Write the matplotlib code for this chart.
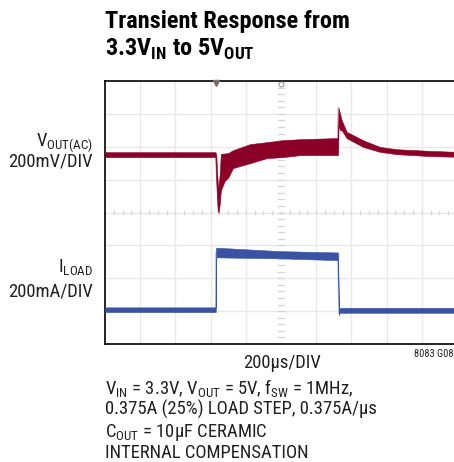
import matplotlib
matplotlib.use('Agg')
import matplotlib.pyplot as plt

FAM = ['Roboto Condensed', 'Liberation Sans Narrow', 'Open Sans Condensed', 'Roboto', 'DejaVu Sans']
plt.rcParams['font.family'] = FAM

# ---- data (time in µs, 200 µs/div) ----
# VOUT(AC) noise envelope, mV relative to DC level (200 mV/div)
vout_t  = [0, 628, 632, 640, 645, 652, 658, 680, 700, 727, 824, 920, 1011, 1108, 1295, 1324,
           1327, 1335, 1345, 1373, 1466, 1562, 1657, 1847, 2000]
vout_hi = [15, 15, 0, -160, -200, -120, 5, 7, 10, 27, 64, 76, 88, 94, 100, 100,
           283, 251, 209, 139, 88, 47, 33, 23, 17]
vout_lo = [-15, -15, -150, -340, -353, -300, -220, -160, -140, -82, -52, -21, -15, -3, -3, -3,
           180, 149, 149, 100, 47, 17, 3, -9, -13]

# ILOAD noise envelope, mA relative to the low load level (200 mA/div)
iload_t  = [0, 629, 631, 994, 1324, 1329, 1335, 2000]
iload_hi = [15, 15, 378, 357, 349, -10, 12, 12]
iload_lo = [-14, -14, 319, 313, 302, -32, -18, -18]

vout_offset_div = 1.76
iload_offset_div = -2.96
mv_per_div = 200
ma_per_div = 200

W, H = 454, 462
fig = plt.figure(figsize=(W / 100, H / 100), dpi=100)
ax = fig.add_axes([105 / W, (H - 344) / H, 352 / W, 263 / H])
ax.set_xlim(0, 2000)
ax.set_ylim(-4, 4)

grid_c = '#e9e9e9'
for gx in range(200, 2000, 200):
    if gx != 1000:
        ax.axvline(gx, color=grid_c, lw=1.0, zorder=0)
for gy in range(-3, 4):
    ax.axhline(gy, color=grid_c, lw=1.0, zorder=0)
# centre cross ticks
tick_c = '#d6d6d6'
for k in range(-20, 21):
    yy = k * 0.2
    ax.plot([985, 1015], [yy, yy], color=tick_c, lw=0.9, zorder=0)
for k in range(0, 41):
    xx = k * 50
    ax.plot([xx, xx], [-0.06, 0.06], color=tick_c, lw=0.9, zorder=0)

# traces
red = '#8c0027'
red_light = '#d99aab'
blue = '#3a52a4'
blue_light = '#a5b2da'

v_hi = [vout_offset_div + v / mv_per_div for v in vout_hi]
v_lo = [vout_offset_div + v / mv_per_div for v in vout_lo]
v_mid = [(a + b) / 2 for a, b in zip(v_hi, v_lo)]
ax.plot(vout_t, v_mid, color=red_light, lw=1.0, zorder=2)
ax.fill_between(vout_t, v_lo, v_hi, color=red, lw=0.4, edgecolor=red, zorder=3)
ax.plot([vout_t[15], vout_t[16]], [v_hi[15], v_hi[16]], color=red_light, lw=1.2, zorder=2)

i_hi = [iload_offset_div + v / ma_per_div for v in iload_hi]
i_lo = [iload_offset_div + v / ma_per_div for v in iload_lo]
i_mid = [(a + b) / 2 for a, b in zip(i_hi, i_lo)]
ax.plot(iload_t, i_mid, color=blue_light, lw=1.0, zorder=2)
ax.fill_between(iload_t, i_lo, i_hi, color=blue, lw=0.4, edgecolor=blue, zorder=3)

# top markers (trigger position and centre)
ax.plot([630], [3.93], marker='v', ms=4, color='#7a6d66', clip_on=False, zorder=5)
ax.plot([1000], [3.9], marker='o', ms=3.5, mfc='none', mec='#a09a96', mew=0.8, clip_on=False, zorder=5)

for s in ['left', 'top', 'bottom']:
    ax.spines[s].set_linewidth(1.2)
    ax.spines[s].set_color('black')
ax.spines['right'].set_visible(False)
ax.set_xticks([])
ax.set_yticks([])


def fx(x):
    return x / W


def fy(y):
    return 1 - y / H


# title
fig.text(fx(105), fy(28), 'Transient Response from', fontsize=17.5, weight='bold', va='baseline')
fig.text(fx(105), fy(55.5), r'3.3V$_{\mathregular{IN}}$ to 5V$_{\mathregular{OUT}}$', fontsize=17.5,
         weight='bold', va='baseline')

# channel labels
lab_fs = 13.4
tc = '#231f20'
fig.text(fx(93), fy(145.5), r'V$_{\mathregular{OUT(AC)}}$', fontsize=lab_fs, ha='right', va='baseline', color=tc)
fig.text(fx(93), fy(166.5), '200mV/DIV', fontsize=lab_fs, ha='right', va='baseline', color=tc)
fig.text(fx(93), fy(273), r'I$_{\mathregular{LOAD}}$', fontsize=lab_fs, ha='right', va='baseline', color=tc)
fig.text(fx(93), fy(297), '200mA/DIV', fontsize=lab_fs, ha='right', va='baseline', color=tc)

# time base and id
fig.text(fx(282), fy(367.5), '200µs/DIV', fontsize=lab_fs, ha='center', va='baseline', color=tc)
fig.text(fx(414), fy(357), '8083 G08', fontsize=7.5, ha='left', va='baseline', color=tc)

# notes
notes = [
    (395, r'V$_{\mathregular{IN}}$ = 3.3V, V$_{\mathregular{OUT}}$ = 5V, f$_{\mathregular{SW}}$ = 1MHz,'),
    (415, '0.375A (25%) LOAD STEP, 0.375A/µs'),
    (437, r'C$_{\mathregular{OUT}}$ = 10µF CERAMIC'),
    (458, 'INTERNAL COMPENSATION'),
]
for yb, s in notes:
    fig.text(fx(105), fy(yb), s, fontsize=lab_fs, ha='left', va='baseline', color=tc)

fig.savefig('out.png', dpi=100)
